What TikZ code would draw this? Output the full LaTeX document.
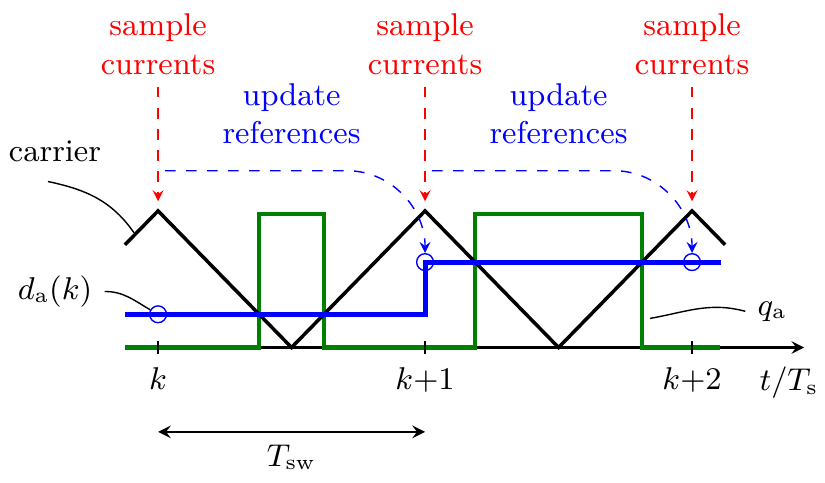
\documentclass[tikz,border=0pt]{standalone}
\usetikzlibrary{arrows}
\begin{document}
\begin{tikzpicture}[x=2.68cm,y=1.371cm,>=stealth,font=\fontsize{9}{11}\selectfont,
  smpl/.style={circle,draw=blue,inner sep=0pt,minimum size=4.8pt},
  lead/.style={line width=.4pt}]
\useasboundingbox (-0.592,-0.985) rectangle (2.498,2.544);
\draw[->,line width=.6pt] (-0.124,0)--(2.42,0);
\draw[green!50!black,line width=1.2pt] (-0.124,0)--(0.379,0)--(0.379,0.98)--(0.621,0.98)--(0.621,0)
  --(1.1875,0)--(1.1875,0.98)--(1.8125,0.98)--(1.8125,0)--(2.105,0);
\draw[line width=1pt] (-0.124,0.752)--(0,1)--(0.5,0)--(1,1)--(1.5,0)--(2,1)--(2.124,0.752);
\draw[blue,line width=1.4pt] (-0.124,0.243)--(1,0.243)--(1,0.625)--(2.11,0.625);
\node[smpl] (c0) at (0,0.243) {};
\node[smpl] (c1) at (1,0.625) {};
\node[smpl] (c2) at (2,0.625) {};
\foreach \i/\lab in {0/k,1/k{+}1,2/k{+}2}{
\draw[line width=.5pt] (\i,-0.045)--(\i,0.045);
\node[below] (t\i) at (\i,-0.06) {$\lab$};
\node[red,align=center] (s\i) at (\i,2.22) {sample\\currents};
\coordinate (p\i) at (\i,1.07);
\draw[red,dashed,->] (s\i)--(p\i);
}
\node[anchor=base] (tT) at (2.363,-0.316) {$t/T_{\mathrm s}$};
% reference updates
\foreach \i/\j in {0/1,1/2}{
\node[blue,align=center] (u\i) at (\i+0.5,1.71) {update\\references};
\coordinate (b\i) at (\i+0.026,1.294);
\coordinate (e\i) at (\i+0.708,1.294);
\draw[blue,dashed,->] (b\i)--(e\i) to[out=0,in=90] (c\j.north);
}
% labels
\node (car) at (-0.386,1.434) {carrier};
\coordinate (cr) at (-0.09,0.84);
\draw[lead] ([xshift=-2pt,yshift=-2pt]car.south) to[out=-12,in=125] (cr);
\node (da) at (-0.386,0.41) {$d_{\mathrm a}(k)$};
\draw[lead] (da.east) to[out=0,in=150] (c0.150);
\node (qa) at (2.3,0.265) {$q_{\mathrm a}$};
\coordinate (qe) at (1.843,0.213);
\draw[lead] (qa.west) to[out=165,in=10] (qe);
\coordinate (w0) at (0,-0.618);
\coordinate (w1) at (1,-0.618);
\draw[<->,line width=.6pt] (w0)--(w1) node[midway,below] (tsw) {$T_{\mathrm{sw}}$};
\end{tikzpicture}
\end{document}
